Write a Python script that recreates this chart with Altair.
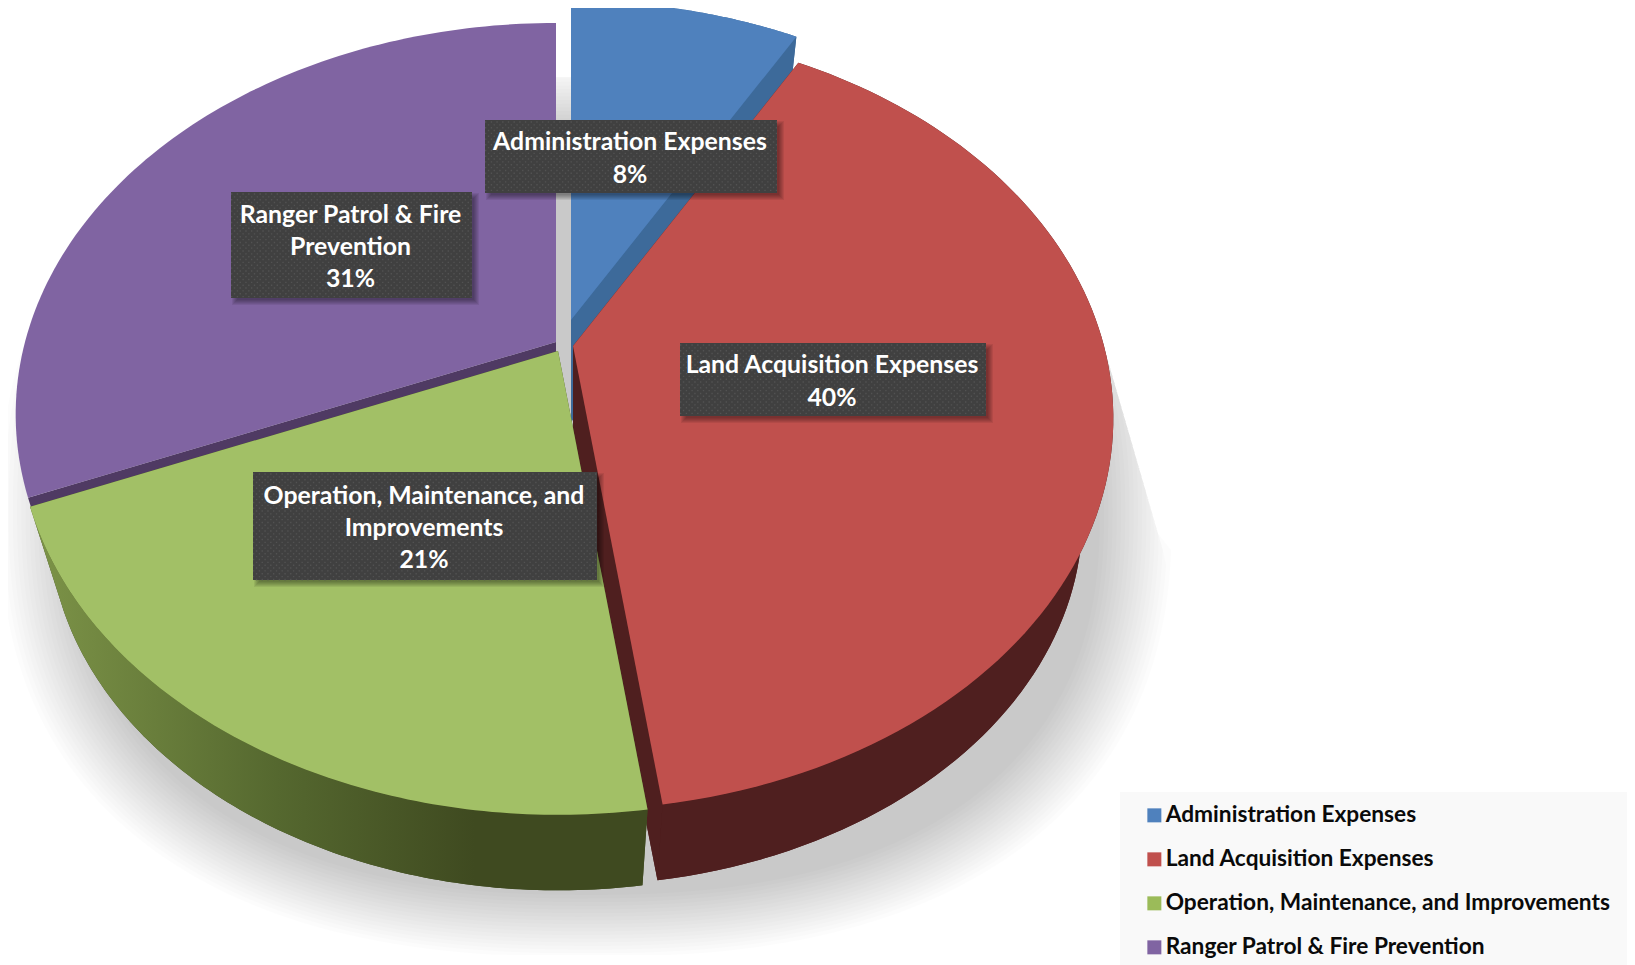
import numpy as np
import pandas as pd
import altair as alt

names = ["Administration Expenses", "Land Acquisition Expenses",
         "Operation, Maintenance, and Improvements", "Ranger Patrol & Fire Prevention"]
shares = [8.2, 39.6, 20.95, 31.25]
colors = ["#4f81bd", "#c0504d", "#9bbb59", "#8064a2"]
wall_colors = ["#3d6a9a", "#4f1f1f", "#3f4a20", "#4f3a63"]
apex_x = [571, 573, 558, 556]
apex_y = [320, 346, 351, 342]
label_lines = [["Administration Expenses", "8%"], ["Land Acquisition Expenses", "40%"],
               ["Operation, Maintenance, and", "Improvements", "21%"],
               ["Ranger Patrol & Fire", "Prevention", "31%"]]
boxes = [(485, 777, 120, 193), (680, 986, 343, 416), (253, 597, 472, 580), (231, 472, 192, 298)]

A, B, P = 531.0, 378.0, 0.185      # perspective of the pie's disc
S, DZ = 0.943, 102.0               # lower surface
XD = alt.Scale(domain=[8, 1627], nice=False, zero=False)
YD = alt.Scale(domain=[965, 8], nice=False, zero=False)
FONT = "Lato"


def rim(ax, ay, theta, lower=False):
    X, Y = np.sin(theta), np.cos(theta)
    w = 1 + P * Y
    dx, dy = A * X / w, B * Y / w
    if lower:
        return ax + S * dx, ay - S * dy + DZ
    return ax + dx, ay - dy


def poly_frame(polys):
    rows = []
    for pid, (xs, ys) in enumerate(polys):
        for i, (px, py) in enumerate(zip(xs, ys)):
            rows.append({"px": float(px), "py": float(py), "poly": pid, "i": i})
    return pd.DataFrame(rows)


def fill_layer(df, **mark):
    return alt.Chart(df).mark_line(interpolate="linear-closed", **mark).encode(
        x=alt.X("px:Q", scale=XD, axis=None),
        y=alt.Y("py:Q", scale=YD, axis=None),
        detail="poly:N",
        order="i:Q",
    )


edges = np.cumsum([0] + shares) / 100 * 2 * np.pi
layers = []

# legend panel
panel = pd.DataFrame([{"a": 1120, "b": 1627, "c": 792, "d": 965}])
layers.append(alt.Chart(panel).mark_rect(color="#f9f9f9").encode(
    x=alt.X("a:Q", scale=XD, axis=None), x2="b:Q",
    y=alt.Y("c:Q", scale=YD, axis=None), y2="d:Q"))

# soft drop shadow
t = np.linspace(0, 2 * np.pi, 240)
shadow_polys = []
N = 18
for k in range(N):
    f = k / (N - 1)
    a_s = 586 - 72 * f
    b_s = 445 - 62 * f
    c, s_ = np.cos(t), np.sin(t)
    sx = 586 + a_s * np.sign(c) * np.abs(c) ** (2 / 2.4)
    sy = 512 + b_s * np.sign(s_) * np.abs(s_) ** (2 / 2.4)
    sy = np.clip(sy, 77, 955)
    right = np.where(sy < 350, 900, np.where(sy < 550, 1105 + (sy - 350) * 0.29, 2000))
    left = np.where(sy < 344, 200, np.where(sy < 400, 16 - (sy - 344) * 0.29, -100))
    sx = np.minimum(np.maximum(sx, left), right)
    shadow_polys.append((sx, sy))
layers.append(fill_layer(poly_frame(shadow_polys), fill="#000000", fillOpacity=0.0125, strokeWidth=0))

green_grad = alt.Gradient(gradient="linear", x1=0, x2=1, y1=0, y2=0, stops=[
    alt.GradientStop(color="#7d9448", offset=0), alt.GradientStop(color="#55682f", offset=0.4),
    alt.GradientStop(color="#3f4a20", offset=0.72), alt.GradientStop(color="#3f4a20", offset=1)])

for idx in [3, 0, 1, 2]:
    ax, ay = apex_x[idx], apex_y[idx]
    th = np.linspace(edges[idx], edges[idx + 1], 100)
    tx, ty = rim(ax, ay, th)
    bx, by = rim(ax, ay, th, lower=True)
    bax, bay = ax, ay + DZ
    if idx == 3:
        # only the thin strip of this slice's cut face shows above the next slice
        parts = [([ax, tx[0], tx[0] + 5, ax], [ay, ty[0], ty[0] + 16, ay + 16])]
    else:
        parts = [
            (np.r_[bax, bx], np.r_[bay, by]),
            ([ax, tx[0], bx[0], bax], [ay, ty[0], by[0], bay]),
            ([ax, tx[-1], bx[-1], bax], [ay, ty[-1], by[-1], bay]),
        ]
    layers.append(fill_layer(poly_frame(parts), fill=wall_colors[idx], strokeWidth=0))
    if idx != 3:
        band = [(np.r_[tx, bx[::-1]], np.r_[ty, by[::-1]])]
        layers.append(fill_layer(poly_frame(band), fill=green_grad if idx == 2 else wall_colors[idx], strokeWidth=0))
    top = poly_frame([(np.r_[ax, tx], np.r_[ay, ty])])
    top["name"] = names[idx]
    layers.append(fill_layer(top, strokeWidth=0, filled=True).encode(
        fill=alt.Fill("name:N", scale=alt.Scale(domain=names, range=colors),
                      legend=alt.Legend(orient="none", legendX=1135, legendY=796, title=None,
                                        symbolType="square", symbolSize=196, symbolStrokeWidth=0,
                                        labelFont=FONT, labelFontWeight="bold", labelFontSize=22.7,
                                        labelColor="#0a0a0a", labelLimit=600, labelOffset=0,
                                        rowPadding=20))))
    if idx == 2:
        layers.append(fill_layer(top.drop(columns="name"), fill="#ffffff", fillOpacity=0.08, strokeWidth=0))

# label boxes, their shadows and dot texture
shadow_rows, box_rows, dots0, dots1, text_rows = [], [], [], [], []
for (x0, x1, y0, y1), lines in zip(boxes, label_lines):
    for g in range(6):
        shadow_rows.append({"a": x0 + 4 - 3 + g, "b": x1 + 4 + 3 - g, "c": y0 + 4 - 3 + g, "d": y1 + 4 + 3 - g})
    box_rows.append({"a": x0, "b": x1, "c": y0, "d": y1})
    for r, yy in enumerate(np.arange(y0 + 2, y1, 2.85)):
        (dots0 if r % 2 == 0 else dots1).append({"a": x0, "b": x1, "c": float(yy)})
    cy = (y0 + y1) / 2 + 3
    n = len(lines)
    for j, line in enumerate(lines):
        text_rows.append({"a": (x0 + x1) / 2 - 1, "c": cy + (j - (n - 1) / 2) * 32.4, "t": line})


def rect_layer(rows, **mark):
    return alt.Chart(pd.DataFrame(rows)).mark_rect(**mark).encode(
        x=alt.X("a:Q", scale=XD, axis=None), x2="b:Q",
        y=alt.Y("c:Q", scale=YD, axis=None), y2="d:Q")


def dash_layer(rows, offset):
    return alt.Chart(pd.DataFrame(rows)).mark_rule(
        color="#525252", strokeWidth=1.4, strokeDash=[1.4, 4.3], strokeDashOffset=offset).encode(
        x=alt.X("a:Q", scale=XD, axis=None), x2="b:Q",
        y=alt.Y("c:Q", scale=YD, axis=None))


layers.append(rect_layer(shadow_rows, color="#000000", opacity=0.07))
layers.append(rect_layer(box_rows, color="#404040"))
layers.append(dash_layer(dots0, 0))
layers.append(dash_layer(dots1, 2.85))
layers.append(alt.Chart(pd.DataFrame(text_rows)).mark_text(
    font=FONT, fontWeight="bold", fontSize=24.8, color="#ffffff", baseline="middle", align="center").encode(
    x=alt.X("a:Q", scale=XD, axis=None), y=alt.Y("c:Q", scale=YD, axis=None), text="t:N"))

chart = alt.layer(*layers).properties(
    width=1619, height=957, padding=0, autosize=alt.AutoSizeParams(type="none"), background="#ffffff"
).configure_view(stroke=None)

chart.save("out.html", embed_options={"renderer": "svg", "actions": False})
